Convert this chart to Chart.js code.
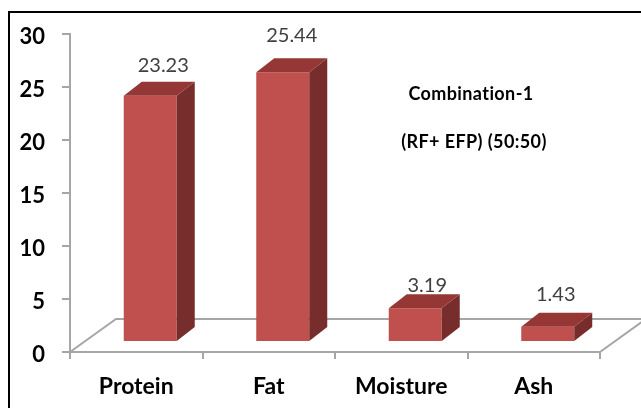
<!DOCTYPE html>
<html>
<head>
<meta charset="utf-8">
<script src="https://cdn.jsdelivr.net/npm/chart.js@4.4.1/dist/chart.umd.min.js"></script>
<style>
  html, body { margin: 0; padding: 0; background: #ffffff; }
  canvas { display: block; }
</style>
</head>
<body>
<canvas id="chart" width="641" height="408"></canvas>
<script>
// Proximate composition of the blend
const categories = ['Protein', 'Fat', 'Moisture', 'Ash'];
const values = [23.23, 25.44, 3.19, 1.43];
const yTicks = [0, 5, 10, 15, 20, 25, 30];
const titleLines = ['Combination-1', '(RF+ EFP) (50:50)'];
// small hand adjustments of each value label [dx, dy]
const labelNudge = [[4, 0], [0, -6], [3, 8], [-1, -2]];

const FRONT = '#C0504D';
const TOP = '#953735';
const SIDE = '#772D2B';
const AXIS = '#A6A6A6';
const FONT = 'Lato, "Open Sans", sans-serif';

const BAR_SHIFT = { x: 14, y: -10 };   // bars stand part way back on the floor
const BAR_DEPTH = { x: 18, y: -14 };   // oblique depth of each bar
const FLOOR_DEPTH = { x: 46, y: -33 }; // oblique depth of the floor

const threeD = {
  id: 'threeD',
  beforeDraw(chart) {
    const ctx = chart.ctx;
    ctx.save();
    ctx.fillStyle = '#ffffff';
    ctx.fillRect(0, 0, chart.width, chart.height);
    ctx.strokeStyle = '#000000';
    ctx.lineWidth = 2;
    ctx.strokeRect(9, 12, chart.width + 40, chart.height + 40);
    ctx.restore();
  },
  beforeDatasetsDraw(chart) {
    const ctx = chart.ctx;
    const a = chart.chartArea;
    ctx.save();
    ctx.strokeStyle = AXIS;
    ctx.lineWidth = 2;
    ctx.beginPath();
    ctx.moveTo(a.left, a.bottom);
    ctx.lineTo(a.left + FLOOR_DEPTH.x, a.bottom + FLOOR_DEPTH.y);
    ctx.lineTo(a.right + FLOOR_DEPTH.x, a.bottom + FLOOR_DEPTH.y);
    ctx.lineTo(a.right, a.bottom);
    ctx.stroke();
    ctx.restore();
    ctx.save();
    ctx.translate(BAR_SHIFT.x, BAR_SHIFT.y);
  },
  afterDatasetsDraw(chart) {
    const ctx = chart.ctx;
    ctx.restore();
    const meta = chart.getDatasetMeta(0);
    ctx.save();
    meta.data.forEach((bar, i) => {
      const p = bar.getProps(['x', 'y', 'base', 'width'], true);
      const l = p.x - p.width / 2 + BAR_SHIFT.x;
      const r = p.x + p.width / 2 + BAR_SHIFT.x;
      const t = p.y + BAR_SHIFT.y;
      const b = p.base + BAR_SHIFT.y;
      const dx = BAR_DEPTH.x, dy = BAR_DEPTH.y;
      // right side face
      ctx.fillStyle = SIDE;
      ctx.beginPath();
      ctx.moveTo(r, t);
      ctx.lineTo(r + dx, t + dy);
      ctx.lineTo(r + dx, b + dy);
      ctx.lineTo(r, b);
      ctx.closePath();
      ctx.fill();
      // top face
      ctx.fillStyle = TOP;
      ctx.beginPath();
      ctx.moveTo(l, t);
      ctx.lineTo(l + dx, t + dy);
      ctx.lineTo(r + dx, t + dy);
      ctx.lineTo(r, t);
      ctx.closePath();
      ctx.fill();
      // value label
      const n = labelNudge[i] || [0, 0];
      ctx.fillStyle = '#404040';
      ctx.font = '20px ' + FONT;
      ctx.textAlign = 'center';
      ctx.textBaseline = 'alphabetic';
      ctx.fillText(values[i].toFixed(2), (l + r) / 2 + dx / 2 + n[0], t + dy - 10 + n[1]);
    });
    ctx.restore();
  },
  afterDraw(chart) {
    const ctx = chart.ctx;
    ctx.save();
    ctx.fillStyle = '#000000';
    ctx.font = 'bold 18px ' + FONT;
    ctx.letterSpacing = '0.4px';
    ctx.textAlign = 'center';
    ctx.textBaseline = 'alphabetic';
    ctx.fillText(titleLines[0], 471, 100);
    ctx.fillText(titleLines[1], 474, 148);
    ctx.restore();
  }
};

new Chart(document.getElementById('chart'), {
  type: 'bar',
  data: {
    labels: categories,
    datasets: [{
      data: values,
      backgroundColor: FRONT,
      borderWidth: 0,
      barPercentage: 0.4,
      categoryPercentage: 1.0,
      clip: false
    }]
  },
  options: {
    responsive: false,
    animation: false,
    devicePixelRatio: 1,
    layout: { padding: { left: 0, right: 41, top: 34, bottom: 0 } },
    plugins: {
      legend: { display: false },
      tooltip: { enabled: false },
      title: { display: false }
    },
    scales: {
      x: {
        offset: true,
        grid: {
          offset: true,
          drawOnChartArea: false,
          drawTicks: true,
          tickLength: 7,
          color: AXIS,
          lineWidth: 2
        },
        border: { display: true, color: AXIS, width: 2 },
        ticks: {
          color: '#000000',
          font: { family: FONT, size: 23, weight: 'bold' },
          padding: 14,
          maxRotation: 0
        },
        afterFit(scale) { scale.height = 56; }
      },
      y: {
        min: 0,
        max: 30,
        afterBuildTicks(scale) { scale.ticks = yTicks.map(v => ({ value: v })); },
        grid: {
          drawOnChartArea: false,
          drawTicks: true,
          tickLength: 8,
          color: AXIS,
          lineWidth: 2
        },
        border: { display: true, color: AXIS, width: 2 },
        ticks: {
          color: '#000000',
          font: { family: FONT, size: 22, weight: 'bold' },
          padding: 17,
          labelOffset: 3
        },
        afterFit(scale) { scale.width = 70; }
      }
    }
  },
  plugins: [threeD]
});
</script>
</body>
</html>
